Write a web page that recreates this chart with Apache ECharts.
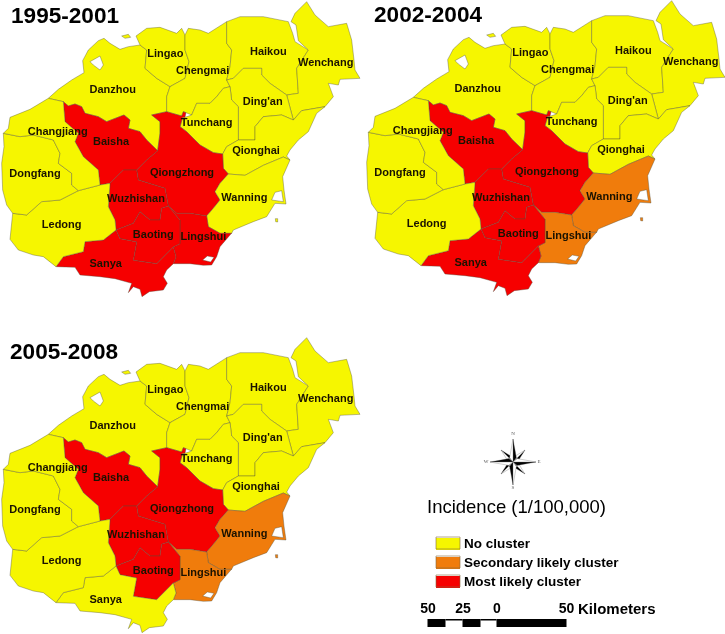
<!DOCTYPE html>
<html><head><meta charset="utf-8">
<style>html,body{margin:0;padding:0;background:#fff}#c{width:725px;height:634px}</style>
<script src="https://cdn.jsdelivr.net/npm/echarts@6/dist/echarts.min.js"></script>
</head><body><div id="c"></div>
<script>
// Region names
const regionNames = ["Danzhou","Lingao","Chengmai","Haikou","Wenchang","Ding'an","Tunchang","Qionghai","Qiongzhong","Wanning","Lingshui","Baisha","Wuzhishan","Baoting","Sanya","Ledong","Dongfang","Changjiang"];
// Cluster class per region, same order: 0 none, 1 secondary, 2 most likely
const clusters1995 = [0,0,0,0,0,0,0,0,2,0,2,2,2,2,2,0,0,0];
const clusters2002 = [0,0,0,0,0,0,0,0,2,1,1,2,2,2,2,0,0,0];
const clusters2005 = [0,0,0,0,0,0,0,0,2,1,1,2,2,2,0,0,0,0];
const periods = ["1995-2001","2002-2004","2005-2008"];
const classLabels = ["No cluster","Secondary likely cluster","Most likely cluster"];
const classColors = ["#f6f600","#f07c0c","#f60000"];
const legendTitle = "Incidence (1/100,000)";
const scaleLabels = ["50","25","0","50"];
const scaleUnit = "Kilometers";
// Outlines: first ring is the land, further rings are holes (same order as regionNames)
const outlines = [
 [[[145,295],[175,268],[215,240],[252,218],[248,182],[265,150],[295,122],[312,115],[330,130],[360,148],[385,140],[420,135],[440,150],[435,205],[470,235],[510,260],[500,290],[500,335],[455,345],[480,365],[480,400],[473,452],[440,420],[420,395],[385,385],[390,360],[372,345],[320,365],[295,350],[255,340],[245,320],[225,312],[205,318],[190,305]],[[270,185],[300,168],[310,195],[300,210],[280,195]]],
 [[[420,135],[408,108],[440,85],[480,82],[530,100],[545,85],[555,105],[555,150],[567,185],[555,235],[510,260],[470,235],[435,205],[440,150]]],
 [[[555,105],[565,85],[600,90],[625,100],[680,65],[680,130],[695,150],[690,200],[680,240],[690,260],[670,265],[650,290],[630,310],[590,310],[575,345],[558,338],[550,335],[545,348],[500,335],[500,290],[510,260],[555,235],[567,185],[555,150]]],
 [[[680,65],[720,50],[790,50],[865,65],[878,100],[885,125],[925,150],[890,205],[895,280],[860,285],[810,250],[785,225],[785,205],[730,205],[700,235],[680,240],[690,200],[695,150],[680,130]]],
 [[[895,122],[888,75],[873,65],[885,40],[920,5],[945,45],[985,80],[1040,70],[1055,120],[1062,180],[1065,210],[1080,235],[1020,238],[1015,255],[985,250],[1000,290],[975,320],[905,332],[880,360],[860,285],[895,280],[890,205],[925,150]]],
 [[[700,235],[730,205],[785,205],[785,225],[810,250],[860,285],[880,360],[845,345],[790,350],[765,380],[765,420],[715,420],[715,320],[695,300],[690,260],[680,240]]],
 [[[555,352],[575,345],[590,310],[630,310],[650,290],[670,265],[690,260],[695,300],[715,320],[715,420],[680,440],[668,462],[640,458],[600,435],[560,395],[540,380],[548,352]]],
 [[[715,420],[765,420],[765,380],[790,350],[845,345],[880,360],[905,332],[975,320],[950,340],[925,395],[895,420],[870,450],[860,468],[870,480],[850,471],[790,496],[735,526],[685,522],[670,505],[668,462],[680,440]]],
 [[[455,345],[500,335],[545,348],[550,335],[558,338],[555,352],[548,352],[540,380],[560,395],[600,435],[640,458],[668,462],[670,505],[685,522],[660,550],[645,575],[660,600],[640,625],[620,648],[570,640],[530,640],[505,618],[495,565],[415,540],[410,510],[440,480],[473,452],[480,400],[480,365]]],
 [[[685,522],[735,526],[790,496],[850,471],[870,480],[848,530],[852,570],[858,612],[825,610],[800,650],[760,665],[700,690],[695,700],[660,700],[625,680],[620,648],[640,625],[660,600],[645,575],[660,550]],[[815,600],[825,577],[845,572],[850,605]]],
 [[[505,618],[530,640],[570,640],[620,648],[625,680],[660,700],[695,700],[690,705],[660,740],[650,770],[635,795],[610,796],[570,791],[520,791],[528,771],[520,741],[540,731],[540,661]],[[608,780],[622,768],[642,772],[632,786]]],
 [[[190,305],[205,318],[225,312],[245,320],[255,340],[295,350],[320,365],[372,345],[390,360],[385,385],[420,395],[440,420],[473,452],[440,480],[410,510],[370,510],[330,550],[300,555],[295,510],[250,470],[225,425],[235,400],[195,365]]],
 [[[330,550],[370,510],[410,510],[415,540],[495,565],[505,618],[485,625],[480,660],[450,660],[420,635],[400,670],[348,690],[345,660],[325,620]]],
 [[[348,690],[400,670],[420,635],[450,660],[480,660],[485,625],[505,618],[540,661],[540,731],[520,741],[470,791],[400,781],[410,726],[360,716]]],
 [[[168,800],[190,770],[250,755],[255,725],[310,720],[348,690],[360,716],[410,726],[400,781],[470,791],[520,741],[528,771],[520,791],[500,810],[490,830],[502,850],[490,870],[448,875],[426,890],[420,868],[400,860],[385,878],[395,850],[345,836],[300,830],[240,825],[225,802]]],
 [[[38,640],[80,645],[125,605],[180,600],[235,572],[300,555],[330,550],[325,620],[345,660],[348,690],[310,720],[255,725],[250,755],[190,770],[168,800],[130,770],[100,765],[55,750],[30,718]]],
 [[[10,400],[60,410],[100,405],[160,420],[180,460],[175,490],[215,520],[215,555],[235,572],[180,600],[125,605],[80,645],[38,640],[20,615],[8,570],[5,490],[12,440]]],
 [[[10,400],[25,385],[30,352],[90,328],[145,295],[190,305],[195,365],[235,400],[225,425],[250,470],[295,510],[300,555],[235,572],[215,555],[215,520],[175,490],[180,460],[160,420],[100,405],[60,410]]]
];
// Small islands: region index and ring
const islands = [[1,[[365,108],[385,103],[392,112],[375,115]]],[9,[[826,656],[833,656],[833,666],[827,665]]]];
const labelSpots = [[338,270],[496,163],[608,212],[805,157],[977,190],[788,305],[620,368],[768,453],[546,518],[733,594],[610,711],[333,427],[408,597],[460,705],[317,792],[185,676],[105,522],[173,397]];

const flip = ([x,y]) => [x,-y];
const closeRing = r => { const q=r.map(flip); q.push(q[0]); return q; };
const geoJson = () => ({type:'FeatureCollection',features:regionNames.map((name,i)=>{
  const main = outlines[i].map((r,k)=> closeRing(k ? r.slice().reverse() : r));
  const extra = islands.filter(s=>s[0]===i).map(s=>[closeRing(s[1])]);
  return {
    type:'Feature',
    properties:{name,cp:flip(labelSpots[i])},
    geometry:{type:'MultiPolygon',coordinates:[main,...extra]}
  };
})});
['hn0','hn1','hn2'].forEach(n=>echarts.registerMap(n,geoJson()));

const panels = [
 {map:'hn0',values:clusters1995,left:0,top:0,tx:11,ty:5},
 {map:'hn1',values:clusters2002,left:365,top:-1,tx:374,ty:4},
 {map:'hn2',values:clusters2005,left:0,top:336,tx:10,ty:341}
];
const chart = echarts.init(document.getElementById('c'),null,{renderer:'canvas'});
const black='#000';
const star=[];
function arm(cx,cy,dx,dy,w,fillA,fillB){
  const nx=-dy,ny=dx,l=Math.hypot(dx,dy);
  const mx=cx+dx*0.18,my=cy+dy*0.18;
  star.push({type:'polygon',silent:true,shape:{points:[[cx,cy],[cx+dx,cy+dy],[mx+nx/l*w,my+ny/l*w]]},style:{fill:fillA,stroke:'#555',lineWidth:0.3}});
  star.push({type:'polygon',silent:true,shape:{points:[[cx,cy],[cx+dx,cy+dy],[mx-nx/l*w,my-ny/l*w]]},style:{fill:fillB,stroke:'#555',lineWidth:0.3}});
}
const cx=513,cy=462;
[[12,-12],[12,12],[-12,12],[-12,-12]].forEach(d=>arm(cx,cy,d[0],d[1],3.2,'#000','#fff'));
[[0,-23],[23,0],[0,23],[-23,0]].forEach(d=>arm(cx,cy,d[0],d[1],3.4,'#000','#fff'));
const compassText=[['N',513,434],['S',513,488],['E',539,462],['W',486,462]].map(t=>({type:'text',silent:true,x:t[1],y:t[2],style:{text:t[0],fill:'#555',font:'5px "Liberation Serif"',align:'center',verticalAlign:'middle'}}));
const barSegs=[[427.5,18,1],[445.5,17,0],[462.5,18,1],[480.5,16,0],[496.5,70,1]];
const bar=barSegs.map(s=>({type:'rect',silent:true,shape:{x:s[0],y:619,width:s[1],height:s[2]?8:1.5},style:{fill:'#000'}}));
const barX=[428,463,497,566.5];
const barText=scaleLabels.map((t,i)=>({type:'text',silent:true,x:barX[i],y:609.5,style:{text:t,fill:black,font:'bold 14px "Liberation Sans"',align:'center',verticalAlign:'middle'}}));
barText.push({type:'text',silent:true,x:578,y:609.5,style:{text:scaleUnit,fill:black,font:'bold 15px "Liberation Sans"',align:'left',verticalAlign:'middle'}});
const swatchEdges=[537,556,575].map(y=>({type:'rect',silent:true,z:100,shape:{x:436,y,width:24,height:12},style:{fill:'none',stroke:'rgba(130,105,60,0.6)',lineWidth:1}}));

chart.setOption({
  animation:false,
  backgroundColor:'#fff',
  title:[
    ...panels.map((p,i)=>({text:periods[i],left:p.tx,top:p.ty,padding:0,textStyle:{fontFamily:'Liberation Sans',fontWeight:'bold',fontSize:22.6,color:black}})),
    {text:legendTitle,left:427,top:498,padding:0,textStyle:{fontFamily:'Liberation Sans',fontWeight:'normal',fontSize:18.5,color:black}}
  ],
  visualMap:{
    type:'piecewise',left:436,top:537,itemWidth:24,itemHeight:12,itemGap:5,textGap:4,padding:0,
    orient:'vertical',align:'left',inverse:true,itemSymbol:'rect',selectedMode:false,hoverLink:false,seriesIndex:[0,1,2],
    pieces:classLabels.map((label,value)=>({value,label,color:classColors[value]})),
    textStyle:{fontFamily:'Liberation Sans',fontWeight:'bold',fontSize:13.5,color:black}
  },
  series:panels.map(p=>({
    type:'map',map:p.map,silent:true,selectedMode:false,roam:false,aspectScale:1,
    boundingCoords:[[0,0],[1095,-915]],
    left:p.left,top:p.top,width:365,height:305,
    itemStyle:{borderColor:'rgba(80,80,60,0.55)',borderWidth:0.7},
    label:{show:true,fontFamily:'Liberation Sans',fontWeight:'bold',fontSize:11,color:'#1a1200'},
    emphasis:{disabled:true},
    data:regionNames.map((name,i)=>({name,value:p.values[i]}))
  })),
  graphic:[...star,...compassText,...bar,...barText,...swatchEdges]
});
</script></body></html>
